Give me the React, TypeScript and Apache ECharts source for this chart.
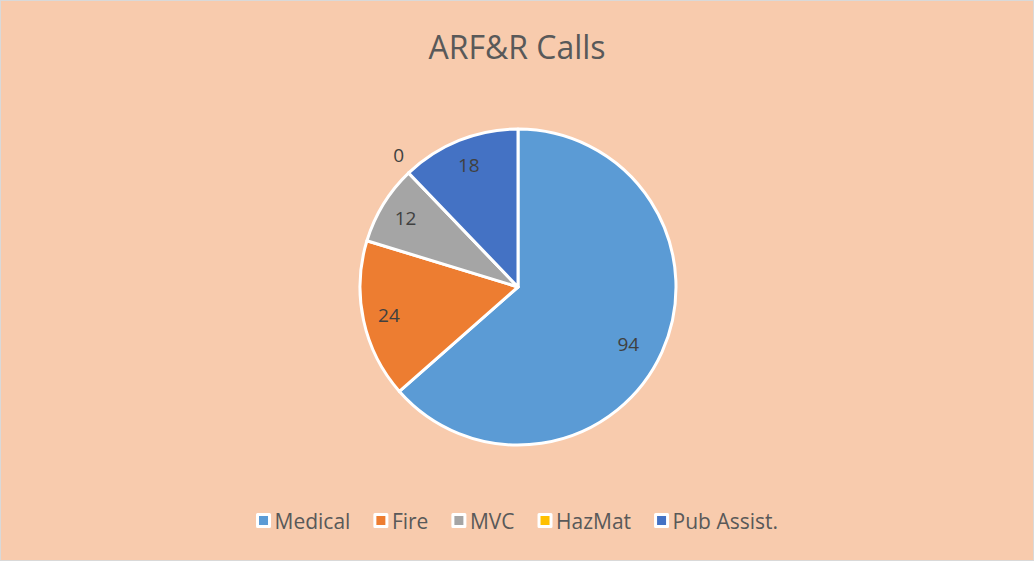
import React, { useEffect, useRef } from "react";
import * as echarts from "echarts";

const categories = ["Medical", "Fire", "MVC", "HazMat", "Pub Assist."];
const values = [94, 24, 12, 0, 18];
const colors = ["#5B9BD5", "#ED7D31", "#A5A5A5", "#FFC000", "#4472C4"];
const titleText = "ARF&R Calls";

export default function App() {
  const ref = useRef<HTMLDivElement>(null);
  useEffect(() => {
    document.body.style.margin = "0";
    const chart = echarts.init(ref.current!, null, { renderer: "svg" });
    const font = "'Open Sans', 'Noto Sans', sans-serif";
    const mainData = categories.map((c, i) => ({
      name: c,
      value: values[i],
      itemStyle: { color: colors[i] },
    }));
    const overlayData = categories.map((c, i) => ({ name: c, value: values[i] }));
    chart.setOption({
      animation: false,
      backgroundColor: "#F8CBAD",
      title: {
        text: titleText,
        left: "center",
        top: 24,
        textStyle: { fontFamily: font, fontSize: 32, fontWeight: "normal", color: "#595959" },
      },
      legend: {
        data: categories,
        left: "center",
        top: 504,
        icon: "rect",
        itemWidth: 12,
        itemHeight: 12,
        itemGap: 23,
        itemStyle: { borderColor: "#FFFFFF", borderWidth: 3 },
        textStyle: { fontFamily: font, fontSize: 21, color: "#595959" },
      },
      series: [
        {
          type: "pie",
          center: [517, 286],
          radius: [0, 158],
          startAngle: 90,
          clockwise: true,
          silent: true,
          itemStyle: { borderColor: "#FFFFFF", borderWidth: 3 },
          label: { show: false },
          labelLine: { show: false },
          data: mainData,
        },
        {
          type: "pie",
          center: [517, 286],
          radius: [0, 258],
          startAngle: 90,
          clockwise: true,
          silent: true,
          itemStyle: { color: "rgba(0,0,0,0)", borderWidth: 0 },
          label: {
            show: true,
            position: "inside",
            formatter: "{c}",
            fontFamily: font,
            fontSize: 19,
            color: "#404040",
          },
          labelLine: { show: false },
          labelLayout: (p: any) =>
            values[p.dataIndex] === 0 ? { dx: -28, dy: -37 } : p.dataIndex === 0 ? { dx: -10, dy: 3 } : {},
          data: overlayData,
        },
      ],
    });
    return () => chart.dispose();
  }, []);
  return (
    <div
      style={{
        position: "fixed",
        left: 0,
        top: 0,
        width: 1034,
        height: 561,
        boxSizing: "border-box",
        border: "1px solid #D9D9D9",
      }}
    >
      <div ref={ref} style={{ width: 1032, height: 559 }} />
    </div>
  );
}
